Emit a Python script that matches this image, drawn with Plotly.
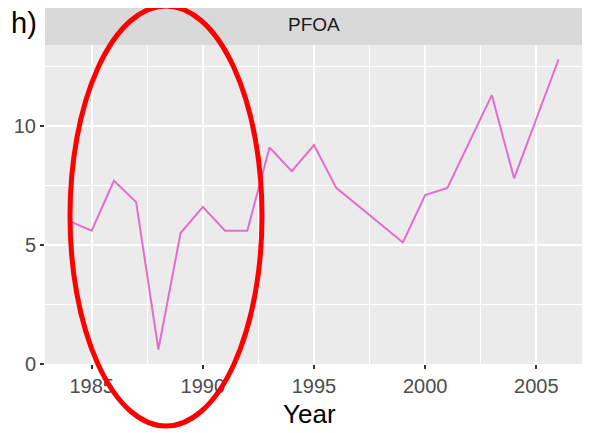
import plotly.graph_objects as go

years = [1984, 1985, 1986, 1987, 1988, 1989, 1990, 1991, 1992, 1993, 1994, 1995, 1996,
         1999, 2000, 2001, 2003, 2004, 2006]
pfoa = [6.0, 5.6, 7.7, 6.8, 0.6, 5.5, 6.6, 5.6, 5.6, 9.1, 8.1, 9.2, 7.4,
        5.1, 7.1, 7.4, 11.3, 7.8, 12.8]
x_ticks = [1985, 1990, 1995, 2000, 2005]
y_ticks = [0, 5, 10]
panel_title = "PFOA"
x_title = "Year"
label = "h)"

# page body has an 8px margin; lay the figure out in window pixels minus that offset
OFF = 8
W, H = 590 - OFF, 433 - OFF
# panel in window pixels: x 45..583, y 45..364
ml, mr, mt, mb = 45 - OFF, 590 - 583, 45 - OFF, 433 - 364
ph = H - mt - mb
pw = W - ml - mr
FONT = "Liberation Sans, Arial"

fig = go.Figure()
fig.add_trace(go.Scatter(x=years, y=pfoa, mode="lines",
                         line=dict(color="#E46DCB", width=2), showlegend=False))

grid_major = dict(showgrid=True, gridcolor="white", gridwidth=1.8)
fig.update_xaxes(range=[1982.9, 2007.1], tickvals=x_ticks, ticks="outside", ticklen=4,
                 tickcolor="#333333", tickwidth=1.5, automargin=False,
                 tickfont=dict(family=FONT, size=20, color="#4D4D4D"),
                 zeroline=False, **grid_major,
                 minor=dict(tickvals=[1982.5, 1987.5, 1992.5, 1997.5, 2002.5, 2007.5],
                            showgrid=True, gridcolor="white", gridwidth=0.9, ticks=""))
fig.update_yaxes(range=[-0.01, 13.41], tickvals=y_ticks, ticks="outside", ticklen=4,
                 tickcolor="#333333", tickwidth=1.5, automargin=False,
                 tickfont=dict(family=FONT, size=20, color="#4D4D4D"),
                 zeroline=False, **grid_major,
                 minor=dict(tickvals=[2.5, 7.5, 12.5], showgrid=True, gridcolor="white",
                            gridwidth=0.9, ticks=""))

def px(xpix):
    return (xpix - OFF - ml) / pw
def py(ypix):
    return (H - mb - (ypix - OFF)) / ph

strip_top = py(3)
fig.add_shape(type="rect", xref="paper", yref="paper", x0=0, x1=1, y0=1, y1=strip_top,
              fillcolor="#D9D9D9", line=dict(width=0), layer="below")
fig.add_annotation(text=panel_title, xref="paper", yref="paper", x=px(314), y=py(25),
                   xanchor="center", yanchor="middle",
                   showarrow=False, font=dict(family=FONT, size=19, color="#1A1A1A"))
fig.add_annotation(text=x_title, xref="paper", yref="paper", x=px(309), y=py(414),
                   xanchor="center", yanchor="middle",
                   showarrow=False, font=dict(family=FONT, size=26, color="black"))
fig.add_annotation(text=label, xref="paper", yref="paper", x=px(24), y=py(23),
                   xanchor="center", yanchor="middle", showarrow=False,
                   font=dict(family=FONT, size=29, color="black"))

# red highlight ellipse (pixel placement converted to paper coords)
fig.add_shape(type="circle", xref="paper", yref="paper",
              x0=px(70), x1=px(262), y0=py(426), y1=py(6),
              line=dict(color="#FF0000", width=5), fillcolor="rgba(0,0,0,0)", layer="above")

fig.update_layout(width=W, height=H, margin=dict(l=ml, r=mr, t=mt, b=mb),
                  plot_bgcolor="#EBEBEB", paper_bgcolor="white")
fig.write_html("out.html")
